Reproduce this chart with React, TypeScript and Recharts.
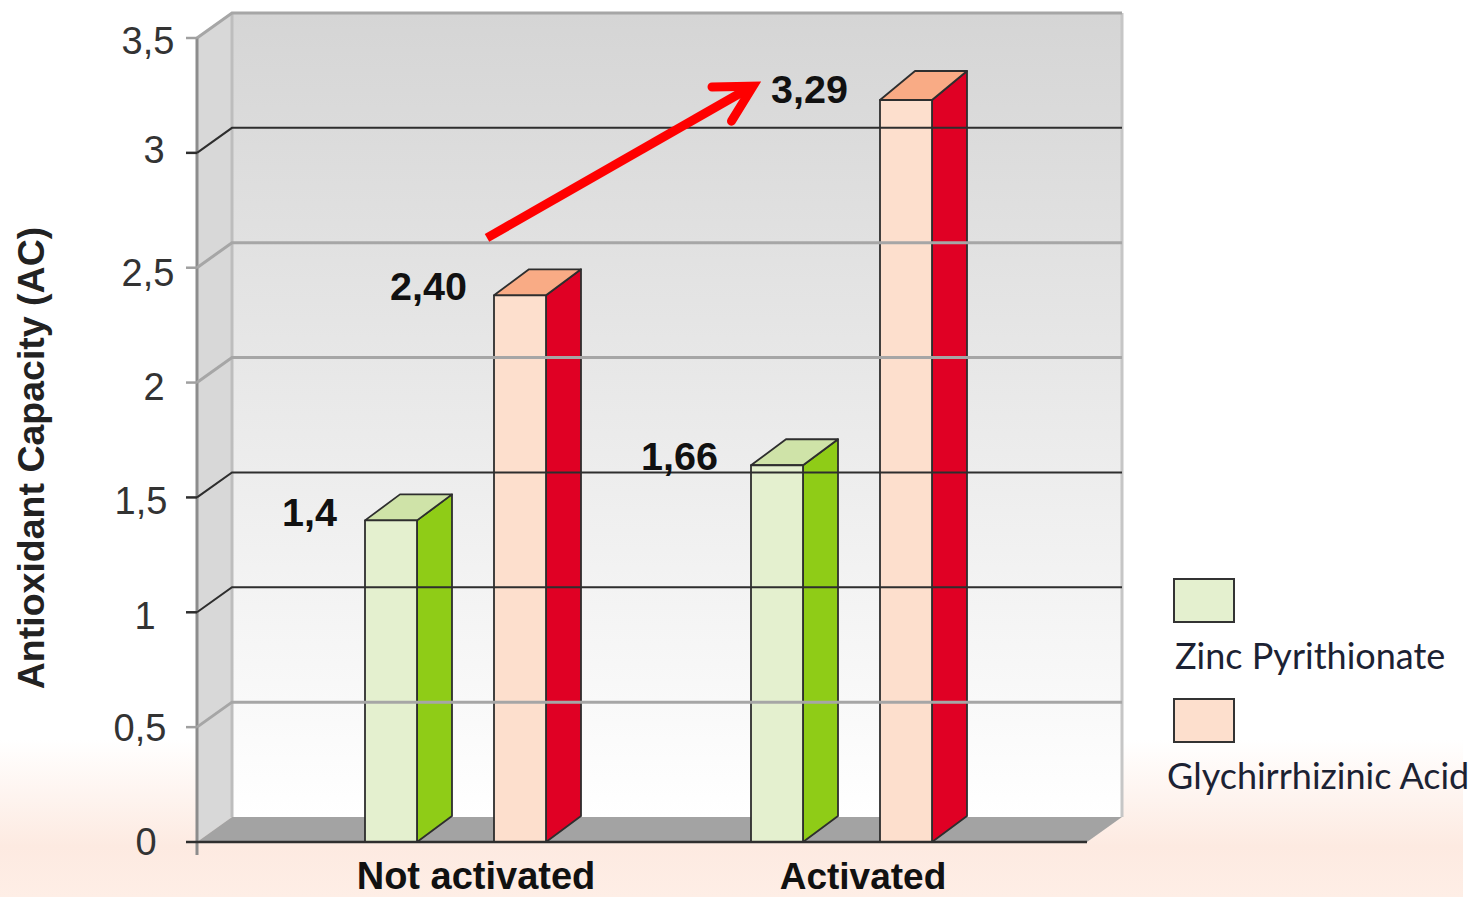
import React from 'react';
import { BarChart, Bar, XAxis, YAxis, LabelList, ReferenceArea, ReferenceLine, Legend } from 'recharts';

const categories = ['Not activated', 'Activated'];
const zincValues = [1.4, 1.64];
const acidValues = [2.38, 3.23];
const zincLabels = ['1,4', '1,66'];
const acidLabels = ['2,40', '3,29'];
const yTicks = [0, 0.5, 1, 1.5, 2, 2.5, 3, 3.5];
const darkLevels = [0, 1, 1.5, 3];
const arrowFrom = 2.63;
const arrowTo = 3.29;

const zincName = 'Zinc Pyrithionate';
const acidName = 'Glychirrhizinic Acid';

const data = categories.map((category, i) => ({
  category,
  zinc: zincValues[i],
  acid: acidValues[i],
  zincLabel: zincLabels[i],
  acidLabel: acidLabels[i],
}));

const DX = 35;
const DY = -26;
const PAD_L = 65;
const PAD_R = 53;
const INK = '#2e2e2e';
const SANS = '"Liberation Sans", Arial, sans-serif';

// Nudges that reproduce the hand-placed texts of the original slide.
const yTickCenter = [-51, -57, -52, -56, -43, -49, -43, -49];
const yTickNudge = [0, 1, 4, 4, 4, 5, -3, 3];
const xTickNudge = [{ dx: 21, base: 39, size: 38 }, { dx: 22, base: 39, size: 37 }];
const zincGap = [28, 33];
const acidGap = [27, 32];
const zincLift = [6, 5];
const acidLift = [5, 3];
const zincRise = [-26, -26];
const acidRise = [-26, -29];

const make3D = (front: string, side: string, top: string, rise: number[]) => (props: any) => {
  const { x, y, width, height, index } = props;
  const r = x + width;
  const b = y + height;
  const ty = y + rise[index];
  return (
    <g stroke={INK} strokeWidth={1.8} strokeLinejoin="round">
      <polygon points={`${r},${y} ${r + DX},${ty} ${r + DX},${b + DY} ${r},${b}`} fill={side} />
      <polygon points={`${x},${y} ${x + DX},${ty} ${r + DX},${ty} ${r},${y}`} fill={top} />
      <rect x={x} y={y} width={width} height={height} fill={front} />
    </g>
  );
};

const Room = (props: any) => {
  const x = props.x - PAD_L;
  const y = props.y;
  const r = props.x + props.width + PAD_R;
  const b = props.y + props.height;
  const width = r - x;
  return (
    <g>
      <defs>
        <linearGradient id="wallFill" x1="0" y1="0" x2="0" y2="1">
          <stop offset="0" stopColor="#d5d5d5" />
          <stop offset="1" stopColor="#ffffff" />
        </linearGradient>
      </defs>
      <rect x={x + DX} y={y - 25} width={width} height={props.height} fill="url(#wallFill)" stroke="none" />
      <polygon points={`${x},${y} ${x + DX},${y - 25} ${x + DX},${b - 25} ${x},${b}`} fill="#d8d8d8" stroke="none" />
      <polygon points={`${x},${b} ${x + DX},${b - 25} ${r + DX},${b - 25} ${r},${b}`} fill="#a3a3a3" stroke="none" />
      <line x1={x + DX} y1={y - 25} x2={x + DX} y2={b - 25} stroke="#bdbdbd" strokeWidth={3} />
      <line x1={r + DX} y1={y - 25} x2={r + DX} y2={b - 25} stroke="#c6c6c6" strokeWidth={3} />
      <line x1={x} y1={y} x2={x} y2={b + 13} stroke="#8c8c8c" strokeWidth={3} />
    </g>
  );
};

const gridShape = (color: string) => (props: any) => {
  const { x1, y1, x2 } = props;
  return (
    <path
      d={`M${x1},${y1} L${x1 + DX},${y1 - 25} L${x2 + DX},${y1 - 25}`}
      fill="none"
      stroke={color}
      strokeWidth={color === INK ? 2 : 3}
    />
  );
};

const Arrow = (props: any) => {
  const { x1, y1, x2, y2 } = props;
  const ax = x1 + 32;
  const bx = x2 - 88;
  const angle = Math.atan2(y2 - y1, bx - ax);
  const end = (sign: number) => {
    const a = angle + Math.PI + sign * 0.5;
    return `${bx + 41 * Math.cos(a)},${y2 + 41 * Math.sin(a)}`;
  };
  return (
    <g stroke="#ff0000" fill="none" strokeWidth={9}>
      <line x1={ax} y1={y1} x2={bx - 6} y2={y2 + 3} />
      <path d={`M${end(1)} L${bx},${y2} L${end(-1)}`} strokeLinecap="round" strokeLinejoin="miter" strokeMiterlimit={10} />
    </g>
  );
};

const YTick = (props: any) => {
  const { x, y, payload, index } = props;
  const dark = darkLevels.includes(payload.value);
  return (
    <g>
      <line x1={x - 11} y1={y} x2={x} y2={y} stroke={dark ? INK : '#a0a0a0'} strokeWidth={2.5} />
      <text
        x={x + yTickCenter[index]}
        y={y + yTickNudge[index] + 13}
        textAnchor="middle"
        fontFamily={SANS}
        fontSize={38}
        fill="#333"
      >
        {String(payload.value).replace('.', ',')}
      </text>
    </g>
  );
};

const XTick = (props: any) => {
  const { x, y, payload, index } = props;
  const n = xTickNudge[index];
  return (
    <text
      x={x + n.dx}
      y={y + n.base}
      textAnchor="middle"
      fontFamily={SANS}
      fontWeight="bold"
      fontSize={n.size}
      fill="#111"
    >
      {payload.value}
    </text>
  );
};

const valueLabel = (gaps: number[], lifts: number[]) => (props: any) => {
  const { x, y, value, index } = props;
  return (
    <text x={x - gaps[index]} y={y + lifts[index]} textAnchor="end" fontFamily={SANS} fontWeight="bold" fontSize={39.5} fill="#111">
      {value}
    </text>
  );
};

const LegendBox = (props: any) => {
  const items = props.payload || [];
  const left = [15, 7];
  return (
    <svg width={314} height={230} style={{ display: 'block' }}>
      {items.map((it: any, i: number) => (
        <g key={it.value} transform={`translate(0,${i * 120})`}>
          <rect x={14} y={10} width={60} height={43} fill={it.color} stroke="#333" strokeWidth={2} />
          <text x={left[i]} y={100} fontFamily="Lato, sans-serif" fontSize={36} fill="#1c2233">
            {it.value}
          </text>
        </g>
      ))}
    </svg>
  );
};

export default function App() {
  return (
    <div style={{ position: 'absolute', left: 0, top: 0, width: 1474, height: 897, overflow: 'hidden', background: '#fff' }}>
      <div
        style={{
          position: 'absolute',
          left: 0,
          top: 740,
          width: 1463,
          height: 157,
          background: 'linear-gradient(#ffffff 0%, #fdeae1 68%, #feeee6 100%)',
        }}
      />
      <BarChart
        width={1474}
        height={897}
        data={data}
        margin={{ top: 38, right: 387, bottom: 0, left: 0 }}
        barSize={52}
        barGap={77}
        style={{ position: 'absolute', left: 0, top: 0 }}
      >
        <ReferenceArea y1={0} y2={3.5} ifOverflow="visible" shape={Room} />
        {yTicks.slice(1).map((v) => (
          <ReferenceLine
            key={v}
            y={v}
            ifOverflow="visible"
            shape={gridShape(darkLevels.includes(v) ? INK : '#a6a6a6')}
          />
        ))}
        <XAxis
          dataKey="category"
          height={55}
          padding={{ left: PAD_L, right: PAD_R }}
          tick={XTick}
          tickLine={false}
          axisLine={{ stroke: INK, strokeWidth: 2.5 }}
          interval={0}
        />
        <YAxis
          width={197}
          domain={[0, 3.5]}
          ticks={yTicks}
          tick={YTick}
          tickLine={false}
          tickSize={0}
          tickMargin={0}
          axisLine={false}
          interval={0}
          label={{
            value: 'Antioxidant Capacity (AC)',
            angle: -90,
            position: 'insideLeft',
            offset: 0,
            dx: 31,
            dy: 18,
            textAnchor: 'middle',
            fontFamily: SANS,
            fontWeight: 'bold',
            fontSize: 37.5,
            fill: '#222',
          }}
        />
        <Bar dataKey="zinc" name={zincName} fill="#e4f0cf" isAnimationActive={false} shape={make3D('#e4f0cf', '#8fcc17', '#cfe3a8', zincRise)}>
          <LabelList dataKey="zincLabel" content={valueLabel(zincGap, zincLift)} />
        </Bar>
        <Bar dataKey="acid" name={acidName} fill="#fddfcd" isAnimationActive={false} shape={make3D('#fddfcd', '#e00024', '#f9ab85', acidRise)}>
          <LabelList dataKey="acidLabel" content={valueLabel(acidGap, acidLift)} />
        </Bar>
        <ReferenceLine
          segment={[
            { x: categories[0], y: arrowFrom },
            { x: categories[1], y: arrowTo },
          ]}
          ifOverflow="visible"
          shape={Arrow}
        />
        <Legend
          layout="vertical"
          align="center"
          verticalAlign="middle"
          itemSorter={null}
          content={LegendBox}
          wrapperStyle={{ left: 1160, top: 569, width: 314, height: 230 }}
        />
      </BarChart>
    </div>
  );
}
